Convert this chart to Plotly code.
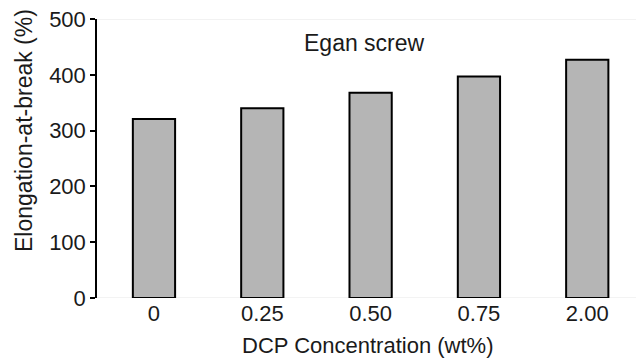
import plotly.graph_objects as go

categories = ["0", "0.25", "0.50", "0.75", "2.00"]
elongation = [321, 340, 368, 397, 427]
y_ticks = [0, 100, 200, 300, 400, 500]

FONT = "Liberation Sans, Arial, sans-serif"
TXT = "#1a1a1a"

fig = go.Figure()
fig.add_trace(go.Bar(
    x=list(range(len(categories))), y=elongation,
    width=0.39,
    marker=dict(color="#b5b5b5", line=dict(color="black", width=2)),
))

fig.update_layout(
    width=636, height=359,
    margin=dict(l=97, r=0, t=19, b=61),
    paper_bgcolor="white", plot_bgcolor="white",
    font=dict(family=FONT, size=22, color=TXT),
    showlegend=False,
    xaxis=dict(
        range=[-0.526, 4.45], automargin=False,
        tickvals=list(range(len(categories))), ticktext=categories,
        tickfont=dict(family=FONT, size=22, color=TXT),
        showgrid=False, zeroline=False, showline=False, ticks="",
    ),
    yaxis=dict(
        range=[0, 500], tickvals=y_ticks, automargin=False,
        tickfont=dict(family=FONT, size=22, color=TXT),
        showgrid=False, zeroline=False,
        showline=True, linecolor="black", linewidth=1.5,
        ticks="outside", ticklen=5, tickwidth=1.5, tickcolor="black",
    ),
    shapes=[
        dict(type="line", xref="paper", yref="y", x0=0, x1=1, y0=0, y1=0,
             line=dict(color="#e6e6e6", width=1), layer="below"),
        dict(type="line", xref="paper", yref="y", x0=0, x1=1, y0=500, y1=500,
             line=dict(color="#e6e6e6", width=1), layer="below"),
    ],
    annotations=[
        dict(text="Egan screw", x=1.946, y=457, xref="x", yref="y",
             showarrow=False, font=dict(family=FONT, size=23, color=TXT)),
        dict(text="Elongation-at-break (%)", x=-0.1354, y=0.5986,
             xref="paper", yref="paper", textangle=-90,
             xanchor="center", yanchor="middle", showarrow=False,
             font=dict(family=FONT, size=23, color=TXT)),
        dict(text="DCP Concentration (wt%)", x=0.501, y=-0.172,
             xref="paper", yref="paper",
             xanchor="center", yanchor="middle", showarrow=False,
             font=dict(family=FONT, size=22, color=TXT)),
    ],
)

fig.write_html(
    "out.html",
    config={"displayModeBar": False},
    post_script="document.body.style.margin='0';document.body.style.overflow='hidden';",
)
